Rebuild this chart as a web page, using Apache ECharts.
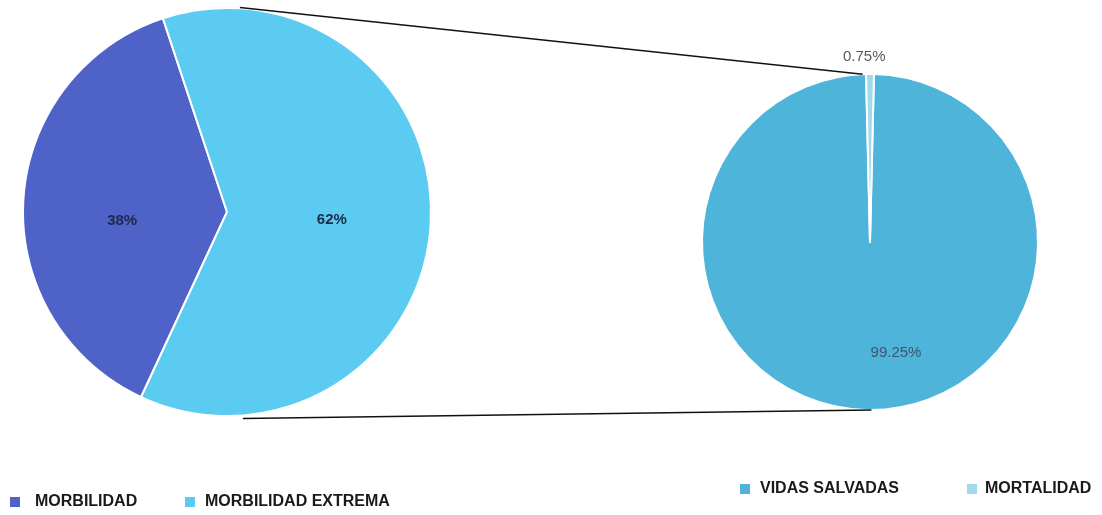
<!DOCTYPE html>
<html>
<head>
<meta charset="utf-8">
<script src="https://cdn.jsdelivr.net/npm/echarts@6/dist/echarts.min.js"></script>
<style>
html,body{margin:0;padding:0;background:#fff;}
#chart{width:1102px;height:515px;}
</style>
</head>
<body>
<div id="chart"></div>
<script>
// Data
const leftCategories = ['MORBILIDAD', 'MORBILIDAD EXTREMA'];
const leftValues = [38, 62];
const rightCategories = ['VIDAS SALVADAS', 'MORTALIDAD'];
const rightValues = [99.25, 0.75];

// Layout
const L = { cx: 227, cy: 212, r: 204, start: 245.1 };
const R = { cx: 870, cy: 242, r: 168 };
const colorsLeft = ['#4F62C8', '#5BCBF2'];
const colorsRight = ['#4EB4D9', '#9FDBEB'];
const FONT = '"Liberation Sans", Arial, sans-serif';

// right pie: MORTALIDAD slice centered at 90deg
const mortDeg = rightValues[1] / 100 * 360;
const rightStart = 90 - mortDeg / 2;

const chart = echarts.init(document.getElementById('chart'));

function pt(c, ang, rad) {
  const a = ang * Math.PI / 180;
  return [c.cx + rad * Math.cos(a), c.cy - rad * Math.sin(a)];
}
const lt = pt(L, 86.4, L.r + 1), rt = pt(R, 92.5, R.r);
const lb = pt(L, 274.4, L.r + 3), rb = pt(R, 270.5, R.r);

function legend(name, x, y, pad) {
  return {
    data: [name], left: x, top: y, orient: 'horizontal', padding: 0,
    itemWidth: 10, itemHeight: 10, icon: 'rect', selectedMode: false,
    itemStyle: { borderWidth: 0 },
    textStyle: { fontFamily: FONT, fontWeight: 'bold', fontSize: 16, color: '#1a1a1a', padding: [0, 0, 0, pad] }
  };
}

chart.setOption({
  animation: false,
  backgroundColor: '#fff',
  legend: [
    legend(leftCategories[0], 10, 494, 10),
    legend(leftCategories[1], 185, 494, 5),
    legend(rightCategories[0], 740, 481, 5),
    legend(rightCategories[1], 967, 481, 3)
  ],
  graphic: [
    { type: 'line', shape: { x1: lt[0], y1: lt[1], x2: rt[0], y2: rt[1] }, style: { stroke: '#111', lineWidth: 1.5 }, z: 10 },
    { type: 'line', shape: { x1: lb[0], y1: lb[1], x2: rb[0], y2: rb[1] }, style: { stroke: '#111', lineWidth: 1.5 }, z: 10 }
  ],
  series: [
    {
      type: 'pie',
      center: [L.cx, L.cy],
      radius: [0, L.r],
      startAngle: L.start,
      clockwise: true,
      avoidLabelOverlap: false,
      itemStyle: { borderColor: '#fff', borderWidth: 2 },
      label: {
        show: true, position: 'inside', formatter: '{c}%',
        fontFamily: FONT, fontWeight: 'bold', fontSize: 15, color: '#1c2a4a'
      },
      labelLine: { show: false },
      emphasis: { disabled: true },
      data: leftCategories.map((n, i) => ({
        name: n, value: leftValues[i],
        itemStyle: { color: colorsLeft[i] },
        label: { offset: i === 0 ? [0, 15] : [0, 2] }
      }))
    },
    {
      type: 'pie',
      center: [R.cx, R.cy],
      radius: [0, R.r],
      startAngle: rightStart,
      clockwise: true,
      avoidLabelOverlap: false,
      itemStyle: { borderColor: '#fff', borderWidth: 2 },
      labelLine: { show: false },
      emphasis: { disabled: true },
      data: rightCategories.map((n, i) => ({
        name: n, value: rightValues[i],
        itemStyle: { color: colorsRight[i] },
        label: i === 0
          ? { show: true, position: 'inside', formatter: '{c}%', fontFamily: FONT, fontSize: 15, color: '#3d566e', offset: [26, 24] }
          : { show: true, position: 'outside', formatter: '{c}%', fontFamily: FONT, fontSize: 15, color: '#595959', offset: [-32, -11] },
        labelLine: { show: false, length: 6, length2: 0 }
      }))
    }
  ]
});
</script>
</body>
</html>
